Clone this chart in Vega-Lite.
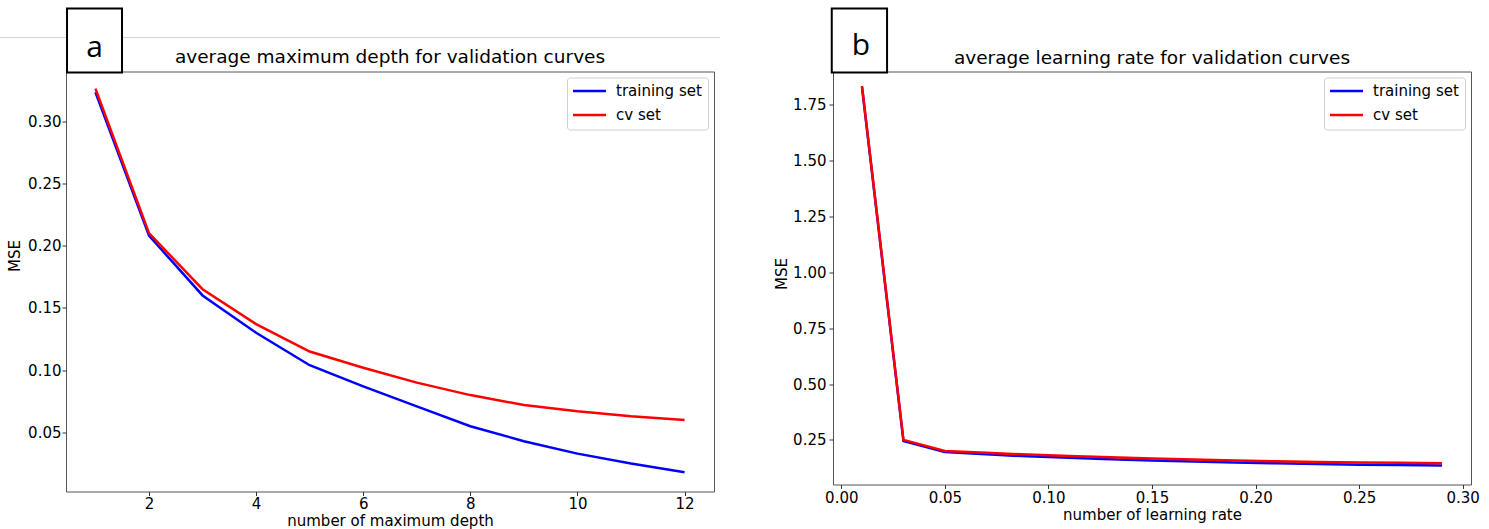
{
  "$schema": "https://vega.github.io/schema/vega-lite/v6.json",
  "background": "white",
  "padding": {"left": -2, "top": 6.5, "right": 5, "bottom": 0},
  "spacing": 52,
  "config": {
    "font": "DejaVu Sans",
    "view": {"stroke": "#555555", "strokeWidth": 1},
    "axis": {
      "labelFont": "DejaVu Sans", "labelFontSize": 15, "labelColor": "#000000",
      "titleFont": "DejaVu Sans", "titleFontSize": 15, "titleFontWeight": "normal", "titleColor": "#000000",
      "tickColor": "#333333", "tickSize": 4, "domain": false, "grid": false, "labelPadding": 2
    },
    "legend": {
      "orient": "top-right", "offset": 6, "padding": 6, "strokeColor": "#d0d0d0", "fillColor": "white",
      "cornerRadius": 3, "symbolType": "M-3.3,0H3.3", "symbolSize": 100, "symbolStrokeWidth": 2.5,
      "symbolOffset": 9, "labelOffset": 19,
      "labelFont": "DejaVu Sans", "labelFontSize": 15, "labelColor": "#000000",
      "rowPadding": 8, "title": null
    },
    "title": {"font": "DejaVu Sans", "fontSize": 18.5, "fontWeight": "normal", "color": "#000000", "anchor": "middle", "frame": "group"}
  },
  "datasets": {
    "depth": [
      {"depth": 1, "mse": 0.323, "set": "training set"},
      {"depth": 2, "mse": 0.208, "set": "training set"},
      {"depth": 3, "mse": 0.160, "set": "training set"},
      {"depth": 4, "mse": 0.130, "set": "training set"},
      {"depth": 5, "mse": 0.104, "set": "training set"},
      {"depth": 6, "mse": 0.087, "set": "training set"},
      {"depth": 7, "mse": 0.071, "set": "training set"},
      {"depth": 8, "mse": 0.055, "set": "training set"},
      {"depth": 9, "mse": 0.043, "set": "training set"},
      {"depth": 10, "mse": 0.033, "set": "training set"},
      {"depth": 11, "mse": 0.025, "set": "training set"},
      {"depth": 12, "mse": 0.018, "set": "training set"},
      {"depth": 1, "mse": 0.326, "set": "cv set"},
      {"depth": 2, "mse": 0.210, "set": "cv set"},
      {"depth": 3, "mse": 0.165, "set": "cv set"},
      {"depth": 4, "mse": 0.137, "set": "cv set"},
      {"depth": 5, "mse": 0.115, "set": "cv set"},
      {"depth": 6, "mse": 0.102, "set": "cv set"},
      {"depth": 7, "mse": 0.090, "set": "cv set"},
      {"depth": 8, "mse": 0.080, "set": "cv set"},
      {"depth": 9, "mse": 0.072, "set": "cv set"},
      {"depth": 10, "mse": 0.067, "set": "cv set"},
      {"depth": 11, "mse": 0.063, "set": "cv set"},
      {"depth": 12, "mse": 0.060, "set": "cv set"}
    ],
    "lr": [
      {"rate": 0.01, "mse": 1.830, "set": "training set"},
      {"rate": 0.03, "mse": 0.245, "set": "training set"},
      {"rate": 0.05, "mse": 0.195, "set": "training set"},
      {"rate": 0.07, "mse": 0.185, "set": "training set"},
      {"rate": 0.09, "mse": 0.176, "set": "training set"},
      {"rate": 0.11, "mse": 0.170, "set": "training set"},
      {"rate": 0.13, "mse": 0.163, "set": "training set"},
      {"rate": 0.15, "mse": 0.158, "set": "training set"},
      {"rate": 0.17, "mse": 0.153, "set": "training set"},
      {"rate": 0.19, "mse": 0.149, "set": "training set"},
      {"rate": 0.21, "mse": 0.145, "set": "training set"},
      {"rate": 0.23, "mse": 0.142, "set": "training set"},
      {"rate": 0.25, "mse": 0.139, "set": "training set"},
      {"rate": 0.27, "mse": 0.137, "set": "training set"},
      {"rate": 0.29, "mse": 0.135, "set": "training set"},
      {"rate": 0.01, "mse": 1.835, "set": "cv set"},
      {"rate": 0.03, "mse": 0.250, "set": "cv set"},
      {"rate": 0.05, "mse": 0.200, "set": "cv set"},
      {"rate": 0.07, "mse": 0.192, "set": "cv set"},
      {"rate": 0.09, "mse": 0.184, "set": "cv set"},
      {"rate": 0.11, "mse": 0.178, "set": "cv set"},
      {"rate": 0.13, "mse": 0.172, "set": "cv set"},
      {"rate": 0.15, "mse": 0.167, "set": "cv set"},
      {"rate": 0.17, "mse": 0.162, "set": "cv set"},
      {"rate": 0.19, "mse": 0.158, "set": "cv set"},
      {"rate": 0.21, "mse": 0.154, "set": "cv set"},
      {"rate": 0.23, "mse": 0.151, "set": "cv set"},
      {"rate": 0.25, "mse": 0.149, "set": "cv set"},
      {"rate": 0.27, "mse": 0.147, "set": "cv set"},
      {"rate": 0.29, "mse": 0.145, "set": "cv set"}
    ]
  },
  "resolve": {"scale": {"color": "independent"}, "legend": {"color": "independent"}},
  "hconcat": [
    {
      "width": 648, "height": 420,
      "title": {"text": "average maximum depth for validation curves", "baseline": "alphabetic", "offset": 0, "dy": 74},
      "layer": [
        {
          "data": {"values": [{}]},
          "mark": {"type": "rule", "stroke": "#d4d4d4", "strokeWidth": 1, "clip": false},
          "encoding": {"x": {"datum": -0.7825}, "x2": {"datum": 12.663}, "y": {"datum": 0.3671}}
        },
        {
          "data": {"name": "depth"},
          "mark": {"type": "line", "strokeWidth": 2.5},
          "encoding": {
            "x": {"field": "depth", "type": "quantitative", "scale": {"domain": [0.45, 12.55], "nice": false, "zero": false},
                  "axis": {"title": "number of maximum depth", "values": [2, 4, 6, 8, 10, 12], "format": "d", "titlePadding": 1.5, "labelPadding": 1}},
            "y": {"field": "mse", "type": "quantitative", "scale": {"domain": [0.0026, 0.3398], "nice": false, "zero": false},
                  "axis": {"title": "MSE", "values": [0.05, 0.10, 0.15, 0.20, 0.25, 0.30], "format": ".2f", "titlePadding": 5, "labelPadding": 1, "titleY": 184}},
            "color": {"field": "set", "type": "nominal", "scale": {"domain": ["training set", "cv set"], "range": ["#0000ff", "#ff0000"]}}
          }
        },
        {
          "data": {"values": [{}]},
          "mark": {"type": "rect", "fill": "white", "stroke": "black", "strokeWidth": 2, "clip": false},
          "encoding": {"x": {"datum": 0.469}, "x2": {"datum": 1.496}, "y": {"datum": 0.3904}, "y2": {"datum": 0.339}}
        },
        {
          "data": {"values": [{}]},
          "mark": {"type": "text", "text": "a", "font": "Open Sans", "fontSize": 30, "baseline": "middle", "align": "center", "color": "black", "clip": false},
          "encoding": {"x": {"datum": 0.982}, "y": {"datum": 0.3583}}
        }
      ]
    },
    {
      "width": 638, "height": 413,
      "title": {"text": "average learning rate for validation curves", "baseline": "alphabetic", "offset": 0, "dy": 75},
      "layer": [
        {
          "data": {"name": "lr"},
          "mark": {"type": "line", "strokeWidth": 2.5},
          "encoding": {
            "x": {"field": "rate", "type": "quantitative", "scale": {"domain": [-0.004, 0.304], "nice": false, "zero": false},
                  "axis": {"title": "number of learning rate", "values": [0, 0.05, 0.10, 0.15, 0.20, 0.25, 0.30], "format": ".2f", "titlePadding": 2}},
            "y": {"field": "mse", "type": "quantitative", "scale": {"domain": [0.05, 1.90], "nice": false, "zero": false},
                  "axis": {"title": "MSE", "values": [0.25, 0.50, 0.75, 1.00, 1.25, 1.50, 1.75], "format": ".2f", "titlePadding": 3, "labelPadding": 3, "titleY": 202}},
            "color": {"field": "set", "type": "nominal", "scale": {"domain": ["training set", "cv set"], "range": ["#0000ff", "#ff0000"]}}
          }
        },
        {
          "data": {"values": [{}]},
          "mark": {"type": "rect", "fill": "white", "stroke": "black", "strokeWidth": 2, "clip": false},
          "encoding": {"x": {"datum": -0.0046}, "x2": {"datum": 0.0221}, "y": {"datum": 2.182}, "y2": {"datum": 1.8955}}
        },
        {
          "data": {"values": [{}]},
          "mark": {"type": "text", "text": "b", "font": "Open Sans", "fontSize": 30, "baseline": "middle", "align": "center", "color": "black", "clip": false},
          "encoding": {"x": {"datum": 0.0095}, "y": {"datum": 2.012}}
        }
      ]
    }
  ]
}
